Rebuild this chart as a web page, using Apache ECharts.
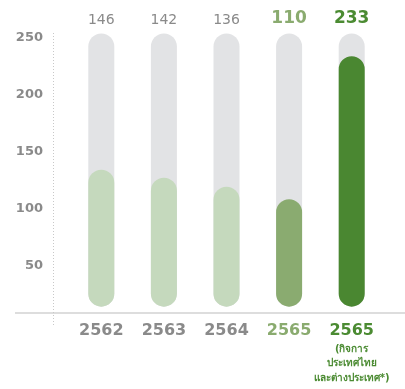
<!DOCTYPE html>
<html>
<head>
<meta charset="utf-8">
<script src="https://cdn.jsdelivr.net/npm/echarts@6/dist/echarts.min.js"></script>
<style>
  html, body { margin: 0; padding: 0; background: #fff; }
  #chart { width: 405px; height: 389px; }
</style>
</head>
<body>
<div id="chart"></div>
<script>
// categories and values
const years = ["2562", "2563", "2564", "2565", "2565"];
const subLines = ["(กิจการ", "ประเทศไทย", "และต่างประเทศ*)"];
const topLabels = [146, 142, 136, 110, 233];
const barTops = [134, 127, 119, 108, 234];
const barBase = [13.5, 13.5, 13.5, 13.5, 13.5];
const trackTop = [254, 254, 254, 254, 254];
const yTicks = [50, 100, 150, 200, 250];

const FONT = "'DejaVu Sans', 'Noto Sans', sans-serif";
const gray = "#8a8a8a";
const barColors = ["#c5d9bd", "#c5d9bd", "#c5d9bd", "#8aab70", "#4a8731"];
const textColors = [gray, gray, gray, "#8aab6f", "#4b8b32"];

let chart = echarts.init(document.getElementById("chart"));

let xData = years.map(function (y, i) {
  return { value: y, textStyle: { color: textColors[i] } };
});

let trackData = trackTop.map(function (t, i) {
  let big = i >= 3;
  return {
    value: t - barBase[i],
    label: {
      formatter: String(topLabels[i]),
      color: textColors[i],
      fontSize: big ? 17 : 14,
      fontWeight: big ? "bold" : "normal",
      distance: big ? 6 : 6
    }
  };
});

let valueData = barTops.map(function (v, i) {
  return { value: v - barBase[i], itemStyle: { color: barColors[i] } };
});

let option = {
  animation: false,
  grid: { left: 70, right: 22, top: 38, bottom: 67 },
  xAxis: {
    type: "category",
    data: xData,
    axisLine: { show: false },
    axisTick: { show: false },
    axisLabel: {
      interval: 0,
      margin: -3,
      fontFamily: FONT,
      formatter: function (val, idx) {
        if (idx === 4) {
          return "{a|" + val + "}\n" + subLines.map(function (s) { return "{b|" + s + "}"; }).join("\n");
        }
        return "{a|" + val + "}";
      },
      rich: {
        a: { fontSize: 16, fontWeight: "bold", lineHeight: 23, fontFamily: FONT },
        b: { fontSize: 10, fontWeight: "bold", lineHeight: 14.5, color: "#4b8b32", fontFamily: FONT }
      }
    }
  },
  yAxis: {
    type: "value",
    min: 0,
    max: yTicks[yTicks.length - 1],
    interval: 50,
    splitLine: { show: false },
    axisLine: { show: false },
    axisTick: { show: false },
    axisLabel: {
      margin: 27,
      color: gray,
      fontSize: 13,
      fontWeight: "bold",
      fontFamily: FONT,
      formatter: function (v) { return yTicks.indexOf(v) >= 0 ? String(v) : ""; }
    }
  },
  graphic: [
    {
      type: "line",
      shape: { x1: 15, y1: 313, x2: 405, y2: 313 },
      style: { stroke: "#d2d2d2", lineWidth: 1.5 },
      silent: true
    },
    {
      type: "line",
      shape: { x1: 53.5, y1: 33, x2: 53.5, y2: 327 },
      style: { stroke: "#c8c8c8", lineWidth: 1, lineDash: [1, 2] },
      silent: true
    }
  ],
  series: [
    {
      type: "bar",
      stack: "track",
      barWidth: 26,
      barGap: "-100%",
      silent: true,
      itemStyle: { color: "transparent" },
      data: barBase
    },
    {
      type: "bar",
      stack: "track",
      barWidth: 26,
      barGap: "-100%",
      clip: false,
      silent: true,
      itemStyle: { color: "#e2e3e5", borderRadius: 13 },
      label: { show: true, position: "top", fontFamily: FONT },
      data: trackData
    },
    {
      type: "bar",
      stack: "value",
      barWidth: 26,
      barGap: "-100%",
      silent: true,
      itemStyle: { color: "transparent" },
      data: barBase
    },
    {
      type: "bar",
      stack: "value",
      barWidth: 26,
      barGap: "-100%",
      silent: true,
      itemStyle: { borderRadius: 13 },
      data: valueData
    }
  ]
};

chart.setOption(option);
window.addEventListener("resize", function () {
  chart.resize();
});
</script>
</body>
</html>
